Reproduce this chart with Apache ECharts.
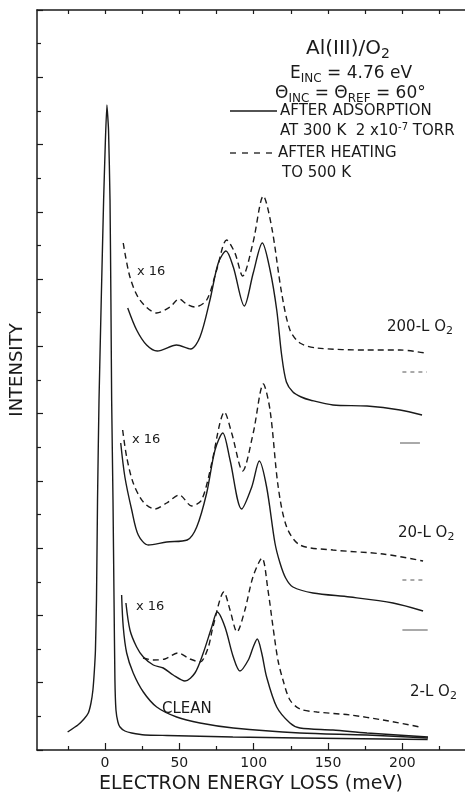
<!DOCTYPE html>
<html>
<head>
<meta charset="utf-8">
<script src="https://cdn.jsdelivr.net/npm/echarts@6/dist/echarts.min.js"></script>
<style>
  html, body { margin: 0; padding: 0; background: #fff; }
  #chart { width: 465px; height: 795px; }
</style>
</head>
<body>
<div id="chart"></div>
<script>
// energy loss in meV, intensity in arbitrary units (curves offset as in the figure)
const elasticE = [-25.1, -18.2, -14.1, -11.2, -9.4, -8.1, -7.1, -6.4, -5.7, -5.0, -4.0, -2.5, -0.9, 0.3, 1.3, 2.4, 3.4, 4.0, 4.5, 5.4, 6.1, 6.7, 7.4, 8.7, 10.1, 13.4, 18, 26.9, 41.7, 86, 131, 217];
const elasticI = [1.8, 2.5, 3.1, 3.7, 4.7, 6.0, 8.0, 10, 15, 25, 35, 45, 55, 61, 64.5, 62, 55, 45, 35, 25, 15, 7, 4, 2.8, 2.3, 1.9, 1.7, 1.5, 1.45, 1.3, 1.2, 1.05];

const cleanE = [11.2, 12.3, 14.6, 19, 25.8, 34.8, 48.2, 63.9, 86.3, 131.1, 176.2, 217.2];
const cleanI = [15.5, 12.3, 9.7, 7.7, 5.8, 4.3, 3.3, 2.7, 2.2, 1.7, 1.5, 1.2];

const l2SolidE = [14.1, 16.8, 21.3, 25.8, 32.5, 39.2, 45.9, 53.8, 60.5, 66.1, 71.8, 75.5, 80.7, 86.3, 90.8, 96.4, 99.7, 102.4, 105.4, 108.7, 115.5, 124.4, 131.1, 153.3, 176.2, 217.2];
const l2SolidI = [14.7, 12, 10.3, 9.3, 8.5, 8.2, 7.5, 6.9, 7.7, 9.7, 12.3, 13.8, 12.3, 9.3, 7.9, 9, 10.3, 11.1, 9.7, 7.3, 4.3, 2.7, 2.2, 2, 1.7, 1.3];
const l2DashE = [25.6, 32.3, 40.3, 49.1, 57.2, 63.9, 69.3, 72.6, 80, 84.1, 88.8, 94.1, 99.5, 105.6, 109.6, 113, 116.3, 119.7, 124.4, 131.1, 142.6, 164.8, 187, 211.8];
const l2DashI = [9.2, 9, 9.1, 9.7, 9.1, 8.8, 10.2, 12.3, 15.8, 14, 11.8, 14, 17.3, 19.2, 16, 12.3, 9, 7, 5, 4.1, 3.8, 3.5, 3, 2.3];

const l20SolidE = [10.6, 13.4, 18, 22.4, 29.1, 41.5, 55.3, 61.7, 68.4, 74, 79.2, 84.1, 91.9, 98.7, 103.8, 108.7, 114.3, 117.7, 121.5, 126.4, 139.9, 164.8, 193.7, 213.9];
const l20SolidI = [30.7, 27.3, 24, 21.5, 20.5, 20.8, 21, 22.3, 25.7, 30, 31.7, 29, 24.1, 26.3, 28.9, 26.3, 20.7, 18.7, 17.2, 16.3, 15.7, 15.3, 14.7, 13.9];
const l20DashE = [11.9, 14.6, 19, 25.8, 33.6, 41.5, 50, 58.3, 65, 71.8, 77.3, 80.2, 85.2, 92.6, 99.7, 106.5, 111, 116.5, 122.2, 131.1, 153.3, 187, 213.9];
const l20DashI = [32, 29.3, 26.7, 24.8, 24.1, 24.7, 25.5, 24.4, 25, 28.7, 32.7, 33.8, 31.7, 27.9, 31.7, 36.6, 34, 26.3, 22.3, 20.5, 20, 19.6, 18.9];

const l200SolidE = [15.3, 21.3, 28, 35.2, 48.2, 57.6, 63.9, 70.6, 76.2, 81.4, 86.3, 93.7, 99.7, 105.8, 111, 115.5, 118.8, 122, 126.4, 132, 137.9, 153.3, 176.2, 198.4, 213.2];
const l200SolidI = [44.2, 42, 40.5, 39.9, 40.5, 40.1, 41.3, 45, 48.7, 49.9, 48.3, 44.4, 47.7, 50.7, 48, 44, 39.5, 36.8, 35.8, 35.3, 35, 34.5, 34.4, 34, 33.5];
const l200DashE = [12.3, 16.8, 23.5, 34.8, 43.7, 49.8, 54.9, 60.5, 68.4, 75.1, 81.8, 87.4, 92.6, 99.5, 106.5, 112.1, 118.8, 124.4, 131.1, 142.6, 176.2, 198.4, 215.2];
const l200DashI = [50.7, 47.3, 45, 43.7, 44.3, 45.1, 44.6, 44.3, 45, 48, 51, 49.7, 47.4, 50.7, 55.4, 52.3, 45.7, 42, 40.7, 40.2, 40, 40, 39.7];

// short zero-level marks at the right for the x16 traces
const baseLevel = [37.8, 30.7, 17.0, 12.0];
const baseFrom = [200, 198.4, 200, 200];
const baseTo = [216.5, 211.8, 214, 217];
const baseDashed = [true, false, true, false];

const majorTicks = [0, 50, 100, 150, 200];
const minorTicks = [-25, 25, 75, 125, 175, 225];
const allTicks = [-25, 0, 25, 50, 75, 100, 125, 150, 175, 200, 225];

const ink = "#1a1a1a";
const F = "DejaVu Sans";

const zip = (xs, ys) => xs.map((x, i) => [x, ys[i]]);

function curve(xs, ys, dashed) {
  return {
    type: "line",
    data: zip(xs, ys),
    showSymbol: false,
    smooth: 0.3,
    silent: true,
    lineStyle: { color: ink, width: 1.4, type: dashed ? [6, 4] : "solid" },
  };
}

const series = [
  Object.assign(curve(elasticE, elasticI, false), { smooth: 0.15 }),
  curve(cleanE, cleanI, false),
  curve(l2SolidE, l2SolidI, false),
  curve(l2DashE, l2DashI, true),
  curve(l20SolidE, l20SolidI, false),
  curve(l20DashE, l20DashI, true),
  curve(l200SolidE, l200SolidI, false),
  curve(l200DashE, l200DashI, true),
];

baseLevel.forEach((lv, i) => {
  series.push({
    type: "line",
    data: [[baseFrom[i], lv], [baseTo[i], lv]],
    showSymbol: false,
    silent: true,
    lineStyle: { color: "#555", width: 1, type: baseDashed[i] ? [4, 4] : "solid" },
  });
});

// rich text styles: m = main, s = subscript, u = superscript
function rich(size, subSize, lh, subLh) {
  return {
    m: { fontSize: size, fontFamily: F, fill: ink, color: ink, lineHeight: lh },
    s: { fontSize: subSize, fontFamily: F, fill: ink, color: ink, lineHeight: subLh, verticalAlign: "bottom" },
    u: { fontSize: subSize, fontFamily: F, fill: ink, color: ink, lineHeight: subLh, verticalAlign: "top" },
  };
}

function label(x, y, text, size, subSize, lh, subLh, align) {
  return {
    type: "text",
    x: x,
    y: y,
    silent: true,
    style: {
      text: text,
      rich: rich(size, subSize, lh, subLh),
      fontSize: size,
      fontFamily: F,
      fill: ink,
      align: align || "left",
      verticalAlign: "middle",
      textAlign: align || "left",
      textVerticalAlign: "middle",
    },
  };
}

const graphic = [
  label(306, 49, "{m|Al(III)/O}{s|2}", 20, 14, 24, 11),
  label(290, 74, "{m|E}{s|INC}{m| = 4.76 eV}", 17, 12, 22, 11),
  label(275, 94, "{m|Θ}{s|INC}{m| = Θ}{s|REF}{m| = 60°}", 17, 12, 22, 9),
  label(280, 111, "{m|AFTER ADSORPTION}", 15, 10, 18, 10),
  label(280, 131, "{m|AT 300 K  2 x10}{u|-7}{m| TORR}", 15, 10, 18, 8),
  label(278, 153, "{m|AFTER HEATING}", 15, 10, 18, 10),
  label(282, 173, "{m|TO 500 K}", 15, 10, 18, 10),
  label(137, 272, "{m|x 16}", 13, 10, 18, 10),
  label(132, 440, "{m|x 16}", 13, 10, 18, 10),
  label(136, 607, "{m|x 16}", 13, 10, 18, 10),
  label(387, 327, "{m|200-L O}{s|2}", 15, 11, 20, 10),
  label(398, 533, "{m|20-L O}{s|2}", 15, 11, 20, 10),
  label(410, 692, "{m|2-L O}{s|2}", 15, 11, 20, 10),
  label(162, 709, "{m|CLEAN}", 15, 10, 20, 10),
  {
    type: "text",
    x: 17,
    y: 370,
    rotation: Math.PI / 2,
    silent: true,
    style: {
      text: "INTENSITY",
      fontSize: 18,
      fontFamily: F,
      fill: ink,
      align: "center",
      verticalAlign: "middle",
      textAlign: "center",
      textVerticalAlign: "middle",
    },
  },
  {
    type: "line",
    silent: true,
    shape: { x1: 230, y1: 111, x2: 277, y2: 111 },
    style: { stroke: ink, lineWidth: 1.3 },
  },
  {
    type: "line",
    silent: true,
    shape: { x1: 230, y1: 153, x2: 274, y2: 153 },
    style: { stroke: ink, lineWidth: 1.3, lineDash: [6, 6] },
  },
];

const axisLine = { show: true, onZero: false, lineStyle: { color: ink, width: 1.5 } };
const xMin = -45.7;
const xMax = 242.1;

const chart = echarts.init(document.getElementById("chart"));
chart.setOption({
  backgroundColor: "#fff",
  animation: false,
  grid: { left: 37, right: 0, top: 10, bottom: 45, containLabel: false, outerBoundsMode: "none" },
  xAxis: [
    {
      type: "value",
      min: xMin,
      max: xMax,
      position: "bottom",
      axisLine: axisLine,
      axisTick: { show: true, inside: true, length: 7, customValues: majorTicks, lineStyle: { color: ink, width: 1.2 } },
      axisLabel: { show: true, customValues: majorTicks, fontSize: 14, fontFamily: F, color: ink, margin: 6 },
      splitLine: { show: false },
      name: "ELECTRON ENERGY LOSS (meV)",
      nameLocation: "middle",
      nameGap: 24,
      nameTextStyle: { fontSize: 19, fontFamily: F, color: ink },
    },
    {
      type: "value",
      min: xMin,
      max: xMax,
      position: "bottom",
      axisLine: { show: false, onZero: false },
      axisTick: { show: true, inside: true, length: 4, customValues: minorTicks, lineStyle: { color: ink, width: 1.2 } },
      axisLabel: { show: false },
      splitLine: { show: false },
    },
    {
      type: "value",
      min: xMin,
      max: xMax,
      position: "top",
      axisLine: axisLine,
      axisTick: { show: true, inside: true, length: 4, customValues: allTicks, lineStyle: { color: ink, width: 1.2 } },
      axisLabel: { show: false },
      splitLine: { show: false },
    },
  ],
  yAxis: {
    type: "value",
    min: 0,
    max: 74,
    interval: 74 / 11,
    position: "left",
    axisLine: axisLine,
    axisTick: { show: true, inside: true, length: 6, lineStyle: { color: ink, width: 1.2 } },
    minorTick: { show: true, splitNumber: 2, length: 4, lineStyle: { color: ink, width: 1.2 } },
    axisLabel: { show: false },
    splitLine: { show: false },
    minorSplitLine: { show: false },
  },
  series: series,
  graphic: graphic,
});
</script>
</body>
</html>
